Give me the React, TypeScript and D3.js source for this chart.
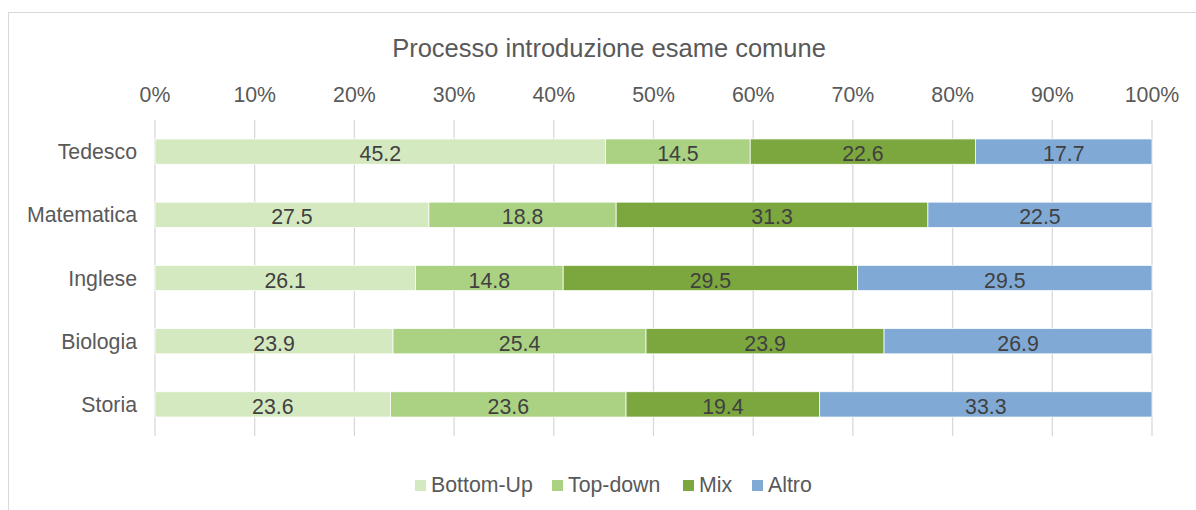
import React from "react";
import * as d3 from "d3";

const categories = ["Tedesco", "Matematica", "Inglese", "Biologia", "Storia"];
const seriesNames = ["Bottom-Up", "Top-down", "Mix", "Altro"];
const bottomUp = [45.2, 27.5, 26.1, 23.9, 23.6];
const topDown = [14.5, 18.8, 14.8, 25.4, 23.6];
const mix = [22.6, 31.3, 29.5, 23.9, 19.4];
const altro = [17.7, 22.5, 29.5, 26.9, 33.3];
const tickValues = [0, 0.1, 0.2, 0.3, 0.4, 0.5, 0.6, 0.7, 0.8, 0.9, 1];
const colors = ["#D5E9C1", "#ABD283", "#7BA73E", "#80AAD5"];
const title = "Processo introduzione esame comune";

const W = 1196;
const H = 510;
const FONT = "'Liberation Sans', Arial, sans-serif";
const FS = 21.3;

export default function App() {
  const series = [bottomUp, topDown, mix, altro];
  const x = d3.scaleLinear().domain([0, 1]).range([155, 1152]);
  const y = d3.scaleBand().domain(categories).range([120, 436]).paddingInner(0.6).paddingOuter(0.3);
  const rows = categories.map((c, i) => {
    const vals = series.map((s) => s[i]);
    const total = d3.sum(vals);
    let acc = 0;
    return vals.map((v, k) => {
      const x0 = acc / total;
      acc += v;
      return { cat: c, k, v, x0, x1: acc / total };
    });
  });
  const legendX = [415, 552, 683, 752];
  const cy = (c: string) => (y(c) as number) + y.bandwidth() / 2;
  return (
    <svg width={W} height={H} style={{ position: "absolute", left: 0, top: 0, background: "#fff" }} fontFamily={FONT}>
      <rect x={8.5} y={12.5} width={1300} height={700} fill="#fff" stroke="#D9D9D9" strokeWidth={1} />
      <text x={609} y={56.5} textAnchor="middle" fontSize={25.5} fill="#595959">{title}</text>
      {tickValues.map((t) => (
        <g key={t}>
          <line x1={x(t)} x2={x(t)} y1={120} y2={436} stroke="#D9D9D9" strokeWidth={1.3} />
          <text x={x(t)} y={102.3} textAnchor="middle" fontSize={FS} fill="#595959">{d3.format(".0%")(t)}</text>
        </g>
      ))}
      {rows.map((segs, i) => (
        <g key={categories[i]}>
          <text x={137} y={cy(categories[i]) + 7.6} textAnchor="end" fontSize={FS} fill="#595959">{categories[i]}</text>
          {segs.map((s) => (
            <g key={s.k}>
              <rect x={x(s.x0)} width={x(s.x1) - x(s.x0)} y={y(s.cat)} height={y.bandwidth()} fill={colors[s.k]} stroke="#fff" strokeWidth={0.75} />
              <text x={(x(s.x0) + x(s.x1)) / 2} y={cy(s.cat) + 9.5} textAnchor="middle" fontSize={FS} fill="#404040">{s.v.toFixed(1)}</text>
            </g>
          ))}
        </g>
      ))}
      {seriesNames.map((n, k) => (
        <g key={n}>
          <rect x={legendX[k]} y={480} width={11} height={11} fill={colors[k]} />
          <text x={legendX[k] + 16} y={492.3} fontSize={FS} fill="#595959">{n}</text>
        </g>
      ))}
    </svg>
  );
}
